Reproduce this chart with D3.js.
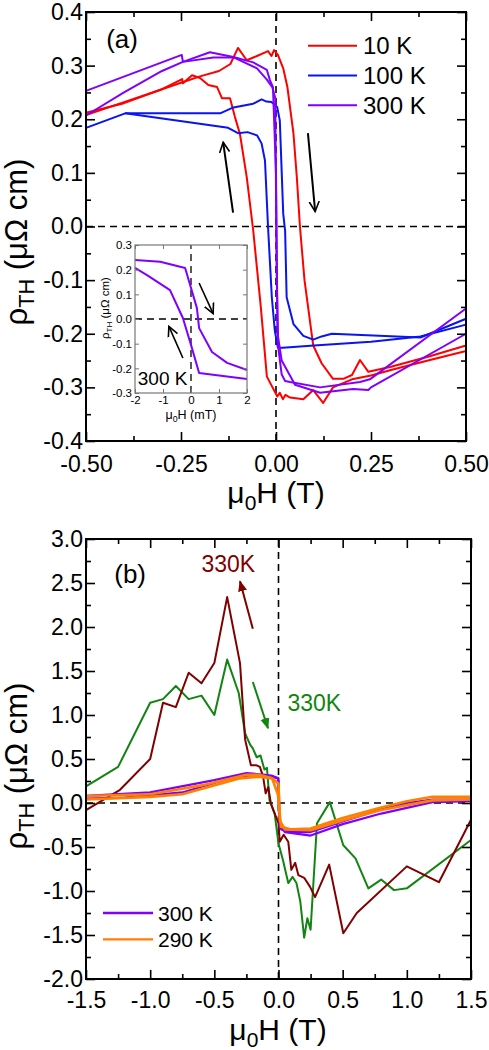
<!DOCTYPE html>
<html><head><meta charset="utf-8">
<script src="https://cdn.jsdelivr.net/npm/d3@7"></script>
<style>
html,body{margin:0;padding:0;background:#fff;}
svg text{font-family:"Liberation Sans",Arial,sans-serif;}
</style></head>
<body>
<svg id="chart" width="489" height="1050"></svg>
<script>
// ---------- DATA (panel a: 10 K, 100 K, 300 K loops) ----------
const a10K_up = [[-0.5,0.208],[-0.4,0.232],[-0.3,0.256],[-0.25,0.268],[-0.2,0.28],[-0.15,0.29],[-0.12,0.303],[-0.1,0.333],[-0.077,0.31],[-0.05,0.318],[-0.021,0.327],[-0.012,0.318],[-0.005,0.329],[0.005,0.32],[0.019,0.295],[0.03,0.26],[0.046,0.173],[0.055,0.09],[0.063,0.0],[0.075,-0.1],[0.098,-0.222],[0.12,-0.255],[0.15,-0.284],[0.177,-0.284],[0.2,-0.277],[0.221,-0.249],[0.243,-0.271],[0.3,-0.262],[0.4,-0.243],[0.5,-0.222]];
const a10K_down = [[0.5,-0.232],[0.4,-0.25],[0.3,-0.268],[0.25,-0.278],[0.2,-0.285],[0.15,-0.3],[0.124,-0.329],[0.098,-0.305],[0.072,-0.322],[0.037,-0.319],[0.025,-0.314],[0.018,-0.322],[0.01,-0.31],[0.0035,-0.317],[-0.024,-0.28],[-0.04,-0.15],[-0.06,-0.007],[-0.077,0.092],[-0.095,0.173],[-0.108,0.204],[-0.121,0.239],[-0.142,0.239],[-0.155,0.26],[-0.178,0.264],[-0.2,0.277],[-0.221,0.282],[-0.245,0.267],[-0.247,0.275],[-0.3,0.256],[-0.4,0.23],[-0.5,0.212]];
const a100K_up = [[-0.5,0.184],[-0.397,0.211],[-0.147,0.211],[-0.112,0.222],[-0.06,0.229],[-0.038,0.237],[-0.025,0.233],[-0.012,0.232],[0.003,0.223],[0.01,0.198],[0.019,0.024],[0.024,-0.008],[0.028,-0.132],[0.046,-0.182],[0.072,-0.204],[0.098,-0.211],[0.12,-0.205],[0.147,-0.2],[0.38,-0.207],[0.5,-0.172]];
const a100K_down = [[0.5,-0.183],[0.38,-0.205],[0.25,-0.215],[0.1,-0.222],[0.018,-0.226],[0.005,-0.226],[-0.003,-0.195],[-0.011,-0.132],[-0.021,0.0],[-0.029,0.123],[-0.038,0.155],[-0.05,0.17],[-0.075,0.176],[-0.1,0.174],[-0.126,0.184],[-0.397,0.211]];
const a300K_up = [[-0.5,0.207],[-0.4,0.25],[-0.3,0.29],[-0.245,0.307],[-0.165,0.315],[-0.11,0.315],[-0.05,0.295],[-0.024,0.274],[-0.01,0.26],[-0.002,0.24],[0.002,-0.1],[0.006,-0.226],[0.015,-0.276],[0.024,-0.288],[0.037,-0.29],[0.116,-0.3],[0.221,-0.29],[0.247,-0.285],[0.5,-0.153]];
const a300K_down = [[0.5,-0.2],[0.25,-0.3],[0.243,-0.305],[0.203,-0.303],[0.116,-0.31],[0.05,-0.295],[0.015,-0.25],[0.004,-0.2],[0.0,0.1],[-0.008,0.26],[-0.016,0.273],[-0.024,0.292],[-0.06,0.306],[-0.112,0.316],[-0.174,0.325],[-0.245,0.307],[-0.248,0.32],[-0.5,0.253]];
// inset (300 K, mT)
const inset_down = [[-2,0.239],[-1.1,0.232],[-0.21,0.207],[0.21,0.045],[0.29,-0.037],[0.75,-0.134],[1.29,-0.178],[2,-0.207]];
const inset_up = [[-2,0.207],[-1.57,0.178],[-0.75,0.117],[-0.29,0.004],[0.0,-0.105],[0.29,-0.219],[2,-0.243]];

// ---------- DATA (panel b) ----------
const b330K_red = [[-1.5,-0.08],[-1.235,0.15],[-1.0,0.5],[-0.9,1.14],[-0.8,1.09],[-0.7,1.48],[-0.6,1.36],[-0.5,1.59],[-0.4,2.34],[-0.3,1.59],[-0.26,0.72],[-0.215,0.43],[-0.175,0.43],[-0.145,0.41],[-0.12,0.3],[-0.1,0.11],[-0.08,0.18],[-0.06,0.0],[-0.04,-0.08],[0.0,-0.23],[0.01,-0.44],[0.04,-0.36],[0.076,-0.44],[0.1,-0.76],[0.13,-0.68],[0.155,-0.82],[0.2,-0.85],[0.245,-0.95],[0.285,-1.07],[0.395,-0.7],[0.505,-1.48],[0.61,-1.25],[1.0,-0.72],[1.25,-0.9],[1.5,-0.19]];
const b330K_green = [[-1.5,0.19],[-1.25,0.41],[-1.0,1.14],[-0.9,1.18],[-0.8,1.33],[-0.7,1.18],[-0.6,1.22],[-0.5,1.0],[-0.4,1.63],[-0.31,1.25],[-0.26,0.79],[-0.22,0.66],[-0.2,0.62],[-0.17,0.52],[-0.14,0.54],[-0.11,0.38],[-0.09,0.4],[-0.07,0.03],[-0.03,-0.12],[0.0,-0.46],[0.035,-0.65],[0.076,-0.91],[0.11,-0.84],[0.14,-0.91],[0.17,-1.12],[0.2,-1.53],[0.225,-1.31],[0.25,-1.44],[0.3,-0.23],[0.4,0.01],[0.505,-0.48],[0.6,-0.63],[0.7,-0.97],[0.8,-0.87],[0.9,-0.99],[1.0,-0.97],[1.5,-0.42]];
const b300K_down = [[1.5,0.04],[1.2,0.04],[1.0,0.0],[0.8,-0.07],[0.5,-0.21],[0.25,-0.33],[0.1,-0.33],[0.02,-0.3],[0.003,-0.1],[-0.005,0.28],[-0.1,0.32],[-0.25,0.34],[-0.5,0.26],[-1.0,0.12],[-1.5,0.08]];
const b300K_up = [[-1.5,0.05],[-1.2,0.06],[-0.75,0.12],[-0.4,0.27],[-0.2,0.32],[-0.05,0.31],[0.0,0.28],[0.01,-0.25],[0.05,-0.33],[0.25,-0.37],[0.5,-0.24],[0.8,-0.12],[1.2,0.01],[1.5,0.02]];
const b290K_down = [[1.5,0.07],[1.2,0.07],[1.0,0.02],[0.8,-0.05],[0.5,-0.17],[0.25,-0.29],[0.1,-0.3],[0.02,-0.27],[-0.005,0.1],[-0.05,0.28],[-0.15,0.32],[-0.25,0.32],[-0.6,0.2],[-1.0,0.1],[-1.5,0.08]];
const b290K_up = [[-1.5,0.04],[-1.0,0.07],[-0.75,0.1],[-0.3,0.28],[-0.15,0.3],[-0.05,0.28],[0.0,0.22],[0.01,-0.2],[0.05,-0.3],[0.25,-0.31],[0.5,-0.2],[0.8,-0.08],[1.2,0.03],[1.5,0.04]];

// ---------- TICKS ----------
const aXTicks = [-0.5,-0.25,0,0.25,0.5];
const aXTickLabels = ["-0.50","-0.25","0.00","0.25","0.50"];
const aYTicks = [-0.4,-0.3,-0.2,-0.1,0,0.1,0.2,0.3,0.4];
const aYTickLabels = ["-0.4","-0.3","-0.2","-0.1","0.0","0.1","0.2","0.3","0.4"];
const insetXTicks = [-2,-1,0,1,2];
const insetXTickLabels = ["-2","-1","0","1","2"];
const insetYTicks = [-0.3,-0.2,-0.1,0,0.1,0.2,0.3];
const insetYTickLabels = ["-0.3","-0.2","-0.1","0.0","0.1","0.2","0.3"];
const bXTicks = [-1.5,-1,-0.5,0,0.5,1,1.5];
const bXTickLabels = ["-1.5","-1.0","-0.5","0.0","0.5","1.0","1.5"];
const bYTicks = [-2,-1.5,-1,-0.5,0,0.5,1,1.5,2,2.5,3];
const bYTickLabels = ["-2.0","-1.5","-1.0","-0.5","0.0","0.5","1.0","1.5","2.0","2.5","3.0"];

const legendA = ["10 K","100 K","300 K"];
const legendB = ["300 K","290 K"];

const C = {red:"#ff0000", blue:"#0a14f0", purple:"#8000ff", dred:"#800000", green:"#118411", orange:"#ff8000"};

const svg = d3.select("#chart");
const defs = svg.append("defs");
function mk(id,color,filled){
  const m = defs.append("marker").attr("id",id).attr("viewBox","0 0 12 12").attr("refX",10).attr("refY",6)
    .attr("markerWidth",12).attr("markerHeight",12).attr("markerUnits","userSpaceOnUse").attr("orient","auto");
  if(filled) m.append("path").attr("d","M0,1.5 L11,6 L0,10.5 Z").attr("fill",color);
  else m.append("path").attr("d","M0,1 L10,6 L0,11").attr("fill","none").attr("stroke",color).attr("stroke-width",1.6);
}
mk("arBlack","#000",false); mk("arBlackS","#000",false); mk("arDred",C.dred,true); mk("arGreen",C.green,true);

function frame(g, x, y, xT, xL, yT, yL, xMinor, yMinor, fs, xpad){
  const [x0,x1]=x.range(), [y1,y0]=y.range();
  const major=9, minor=5;
  const ax = (gen, tr, vals, size, labels, pad)=>{
    const a = g.append("g").attr("transform",tr).call(gen.tickValues(vals).tickSizeInner(-size).tickSizeOuter(0)
      .tickFormat((d,i)=>labels?labels[i]:"").tickPadding(labels?pad:0));
    a.select(".domain").remove();
    a.selectAll("line").attr("stroke","#000").attr("stroke-width",1.6);
    a.selectAll("text").attr("font-size",fs).attr("fill","#000").style("font-family","Liberation Sans, Arial, sans-serif");
    return a;
  };
  ax(d3.axisBottom(x), `translate(0,${y1})`, xT, major, xL, xpad);
  ax(d3.axisBottom(x), `translate(0,${y1})`, xMinor, minor, null);
  ax(d3.axisTop(x), `translate(0,${y0})`, xT, major, null);
  ax(d3.axisTop(x), `translate(0,${y0})`, xMinor, minor, null);
  ax(d3.axisLeft(y), `translate(${x0},0)`, yT, major, yL, 3);
  ax(d3.axisLeft(y), `translate(${x0},0)`, yMinor, minor, null);
  ax(d3.axisRight(y), `translate(${x1},0)`, yT, major, null);
  ax(d3.axisRight(y), `translate(${x1},0)`, yMinor, minor, null);
  g.append("rect").attr("x",x0).attr("y",y0).attr("width",x1-x0).attr("height",y1-y0)
    .attr("fill","none").attr("stroke","#000").attr("stroke-width",2);
}
function zeroLines(g,x,y,w){
  g.append("line").attr("x1",x.range()[0]).attr("x2",x.range()[1]).attr("y1",y(0)).attr("y2",y(0))
    .attr("stroke","#000").attr("stroke-width",w).attr("stroke-dasharray","7,5");
  g.append("line").attr("x1",x(0)).attr("x2",x(0)).attr("y1",y.range()[0]).attr("y2",y.range()[1])
    .attr("stroke","#000").attr("stroke-width",w).attr("stroke-dasharray","7,5");
}
function series(g,x,y,data,color,w){
  const line = d3.line().x(d=>x(d[0])).y(d=>y(d[1]));
  g.append("path").attr("d",line(data)).attr("fill","none").attr("stroke",color).attr("stroke-width",w).attr("stroke-linejoin","round");
}
function arrow(g,x,y,p0,p1,color,mid,w){
  g.append("line").attr("x1",x(p0[0])).attr("y1",y(p0[1])).attr("x2",x(p1[0])).attr("y2",y(p1[1]))
    .attr("stroke",color).attr("stroke-width",w).attr("marker-end",`url(#${mid})`);
}
function yTitle(g,cx,cy,fs){
  const t = g.append("text").attr("transform",`translate(${cx},${cy}) rotate(-90)`).attr("text-anchor","middle")
    .attr("font-size",fs).attr("fill","#000");
  t.append("tspan").text("ρ");
  t.append("tspan").text("TH").attr("font-size",fs*0.7).attr("dy",fs*0.22);
  t.append("tspan").text(" (μΩ cm)").attr("dy",-fs*0.22);
}
function xTitle(g,cx,cy,fs,unit){
  const t = g.append("text").attr("x",cx).attr("y",cy).attr("text-anchor","middle").attr("font-size",fs).attr("fill","#000");
  t.append("tspan").text("μ");
  t.append("tspan").text("0").attr("font-size",fs*0.7).attr("dy",fs*0.22);
  t.append("tspan").text(`H (${unit})`).attr("dy",-fs*0.22);
}

// ================= PANEL A =================
const gA = svg.append("g");
const xA = d3.scaleLinear().domain([-0.5,0.5]).range([86,466]);
const yA = d3.scaleLinear().domain([-0.4,0.4]).range([441,12]);
zeroLines(gA,xA,yA,1.6);
series(gA,xA,yA,a10K_down,C.red,2);
series(gA,xA,yA,a10K_up,C.red,2);
series(gA,xA,yA,a100K_down,C.blue,2);
series(gA,xA,yA,a100K_up,C.blue,2);
series(gA,xA,yA,a300K_down,C.purple,2);
series(gA,xA,yA,a300K_up,C.purple,2);
frame(gA,xA,yA,aXTicks,aXTickLabels,aYTicks,aYTickLabels,d3.range(-0.375,0.5,0.25),d3.range(-0.35,0.4,0.1),23,15);
arrow(gA,xA,yA,[-0.113,0.026],[-0.139,0.157],"#000","arBlack",2);
arrow(gA,xA,yA,[0.084,0.174],[0.103,0.028],"#000","arBlack",2);
gA.append("text").attr("x",xA(-0.447)).attr("y",yA(0.333)).attr("font-size",26).text("(a)");
// legend a
const legColsA=[C.red,C.blue,C.purple];
legendA.forEach((s,i)=>{
  const yy = yA(0.337 - i*0.0555);
  gA.append("line").attr("x1",308).attr("x2",357).attr("y1",yy).attr("y2",yy).attr("stroke",legColsA[i]).attr("stroke-width",2);
  gA.append("text").attr("x",363).attr("y",yy+8.5).attr("font-size",24).text(s);
});
yTitle(gA,27,242,31);
xTitle(gA,276,503,30,"T");

// inset
const gI = svg.append("g");
const xI = d3.scaleLinear().domain([-2,2]).range([135,247]);
const yI = d3.scaleLinear().domain([-0.3,0.3]).range([393,245]);
gI.append("rect").attr("x",135).attr("y",245).attr("width",112).attr("height",148).attr("fill","#fff");
zeroLines(gI,xI,yI,1.3);
series(gI,xI,yI,inset_down,C.purple,2);
series(gI,xI,yI,inset_up,C.purple,2);
(function(){
  const ax=(gen,tr,vals,labels,size)=>{
    const a=gI.append("g").attr("transform",tr).call(gen.tickValues(vals).tickSizeInner(-size).tickSizeOuter(0).tickFormat((d,i)=>labels?labels[i]:"").tickPadding(3));
    a.select(".domain").remove();
    a.selectAll("line").attr("stroke","#777").attr("stroke-width",1);
    a.selectAll("text").attr("font-size",11.5).attr("fill","#000").style("font-family","Liberation Sans, Arial, sans-serif");
  };
  ax(d3.axisBottom(xI),"translate(0,393)",insetXTicks,insetXTickLabels,4);
  ax(d3.axisTop(xI),"translate(0,245)",insetXTicks,null,4);
  ax(d3.axisLeft(yI),"translate(135,0)",insetYTicks,insetYTickLabels,4);
  ax(d3.axisRight(yI),"translate(247,0)",insetYTicks,null,4);
  gI.append("rect").attr("x",135).attr("y",245).attr("width",112).attr("height",148).attr("fill","none").attr("stroke","#777").attr("stroke-width",1.2);
})();
arrow(gI,xI,yI,[0.29,0.146],[0.79,0.022],"#000","arBlackS",1.6);
arrow(gI,xI,yI,[-0.29,-0.158],[-0.79,-0.03],"#000","arBlackS",1.6);
gI.append("text").attr("x",xI(-1.9)).attr("y",yI(-0.266)).attr("font-size",19).text("300 K");
yTitle(gI,109,308,11.5);
xTitle(gI,191,419,12.5,"mT");

// ================= PANEL B =================
const gB = svg.append("g");
const xB = d3.scaleLinear().domain([-1.5,1.5]).range([86,471]);
const yB = d3.scaleLinear().domain([-2,3]).range([979,539]);
zeroLines(gB,xB,yB,1.6);
series(gB,xB,yB,b330K_green,C.green,2);
series(gB,xB,yB,b330K_red,C.dred,2);
series(gB,xB,yB,b300K_down,C.purple,2.2);
series(gB,xB,yB,b300K_up,C.purple,2.2);
series(gB,xB,yB,b290K_down,C.orange,2.6);
series(gB,xB,yB,b290K_up,C.orange,2.6);
frame(gB,xB,yB,bXTicks,bXTickLabels,bYTicks,bYTickLabels,d3.range(-1.25,1.5,0.5),d3.range(-1.75,3,0.5),23,13);
arrow(gB,xB,yB,[-0.2,1.98],[-0.3,2.52],C.dred,"arDred",2);
arrow(gB,xB,yB,[-0.2,1.375],[-0.082,0.85],C.green,"arGreen",2);
gB.append("text").attr("x",xB(-0.6)).attr("y",yB(2.63)).attr("font-size",23).attr("fill",C.dred).text("330K");
gB.append("text").attr("x",xB(0.07)).attr("y",yB(1.05)).attr("font-size",23).attr("fill",C.green).text("330K");
gB.append("text").attr("x",xB(-1.28)).attr("y",yB(2.5)).attr("font-size",26).text("(b)");
const legColsB=[C.purple,C.orange];
legendB.forEach((s,i)=>{
  const yy = yB(-1.25 - i*0.3);
  gB.append("line").attr("x1",103).attr("x2",153).attr("y1",yy).attr("y2",yy).attr("stroke",legColsB[i]).attr("stroke-width",2.4);
  gB.append("text").attr("x",158).attr("y",yy+7.5).attr("font-size",21).text(s);
});
yTitle(gB,27,766,31);
xTitle(gB,278,1040,30,"T");
</script>
</body></html>
